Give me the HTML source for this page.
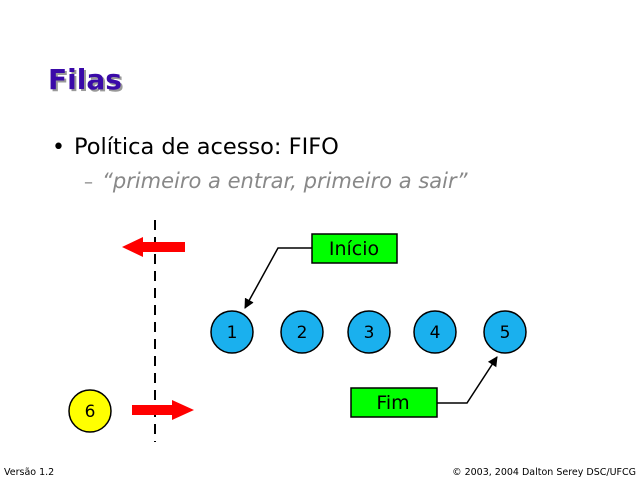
<!DOCTYPE html>
<html><head><meta charset="utf-8"><style>
html,body{margin:0;padding:0;background:#fff;}
svg{display:block;font-family:"DejaVu Sans","Liberation Sans",sans-serif;}
</style></head><body>
<svg width="640" height="480" viewBox="0 0 640 480" xmlns="http://www.w3.org/2000/svg">
<defs>
<marker id="ah" markerWidth="10" markerHeight="10" refX="9" refY="5" orient="auto" markerUnits="userSpaceOnUse"><path d="M0,0 L10,5 L0,10 z" fill="#000"/></marker>
</defs>
<text x="50" y="91" font-size="28" font-weight="bold" fill="#999">Filas</text>
<text x="48" y="89" font-size="28" font-weight="bold" fill="#3a0aa8">Filas</text>
<text x="52" y="154" font-size="22" fill="#000">•</text>
<text x="74" y="154" font-size="22.5" fill="#000">Política de acesso: FIFO</text>
<text x="84" y="188" font-size="18" fill="#888">–</text>
<text x="102" y="188" font-size="21" font-style="italic" fill="#888">“primeiro a entrar, primeiro a sair”</text>
<line x1="155" y1="220" x2="155" y2="442" stroke="#000" stroke-width="2" stroke-dasharray="10,7"/>
<polygon points="122,247 143,237 143,242 185,242 185,252 143,252 143,257" fill="#f00"/>
<polygon points="132,405 172,405 172,400 194,410 172,420 172,415 132,415" fill="#f00"/>
<g stroke="#000" stroke-width="1.5" fill="#1ab0ee" font-size="17">
<circle cx="232" cy="332" r="21"/><circle cx="302" cy="332" r="21"/><circle cx="369" cy="332" r="21"/><circle cx="435" cy="332" r="21"/><circle cx="505" cy="332" r="21"/>
<circle cx="90" cy="411" r="21" fill="#ffff00"/>
</g>
<g font-size="17" fill="#000" text-anchor="middle">
<text x="232" y="338">1</text><text x="302" y="338">2</text><text x="369" y="338">3</text><text x="435" y="338">4</text><text x="505" y="338">5</text><text x="90" y="417">6</text>
</g>
<rect x="312" y="234" width="85" height="29" fill="#00ff00" stroke="#000" stroke-width="1.5"/>
<text x="354" y="255" font-size="19" text-anchor="middle">Início</text>
<rect x="351" y="388" width="86" height="29" fill="#00ff00" stroke="#000" stroke-width="1.5"/>
<text x="393" y="409" font-size="19" text-anchor="middle">Fim</text>
<polyline points="312,248 278,248 245,308" fill="none" stroke="#000" stroke-width="1.5" marker-end="url(#ah)"/>
<polyline points="437,403 467,403 497,357" fill="none" stroke="#000" stroke-width="1.5" marker-end="url(#ah)"/>
<text x="4" y="475" font-size="9.5" fill="#000">Versão 1.2</text>
<text x="636" y="475" font-size="9.5" fill="#000" text-anchor="end">© 2003, 2004 Dalton Serey DSC/UFCG</text>
</svg>
</body></html>
